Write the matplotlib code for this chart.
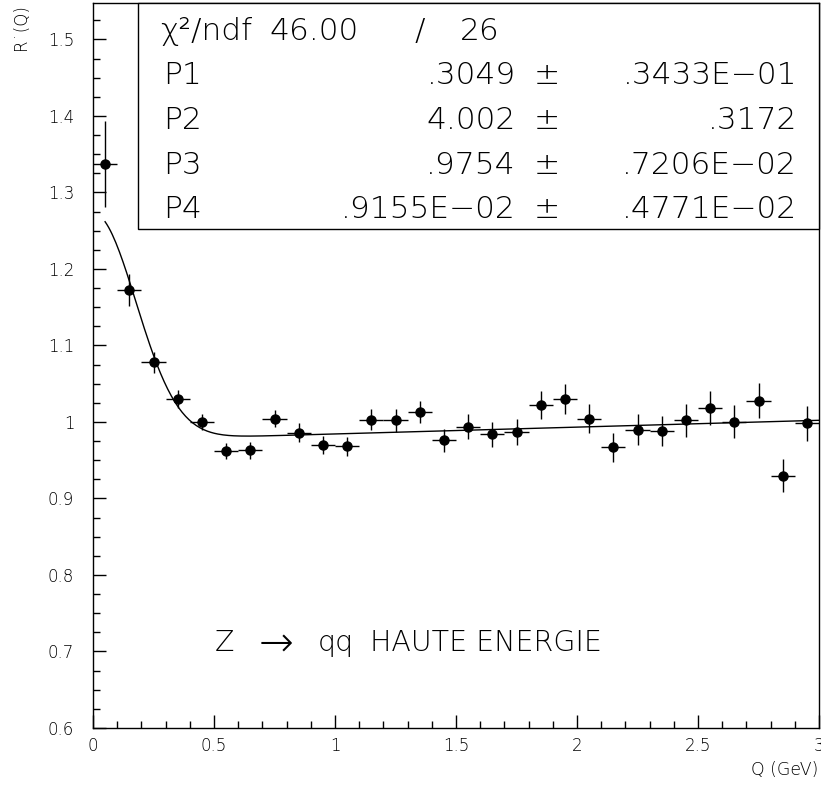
import numpy as np
import matplotlib
matplotlib.use("Agg")
import matplotlib.pyplot as plt
from matplotlib.ticker import MultipleLocator, FuncFormatter
from matplotlib.patches import Rectangle

# ---------------- data ----------------
q = [0.05, 0.15, 0.25, 0.35, 0.45, 0.55, 0.65, 0.75, 0.85, 0.95,
     1.05, 1.15, 1.25, 1.35, 1.45, 1.55, 1.65, 1.75, 1.85, 1.95,
     2.05, 2.15, 2.25, 2.35, 2.45, 2.55, 2.65, 2.75, 2.85, 2.95]
r = [1.337, 1.1725, 1.078, 1.030, 1.000, 0.962, 0.963, 1.004, 0.986, 0.970,
     0.968, 1.003, 1.002, 1.013, 0.976, 0.994, 0.984, 0.987, 1.022, 1.030,
     1.004, 0.967, 0.990, 0.988, 1.002, 1.018, 1.000, 1.028, 0.930, 0.998]
r_err = [0.056, 0.021, 0.014, 0.012, 0.011, 0.0105, 0.011, 0.011, 0.012, 0.012,
         0.0127, 0.0137, 0.0146, 0.015, 0.0148, 0.016, 0.0163, 0.0168, 0.018, 0.019,
         0.019, 0.0187, 0.020, 0.020, 0.021, 0.022, 0.0216, 0.023, 0.021, 0.023]
q_err = [0.05] * 30

# fit parameters as printed in the statistics box
fit_names = ["P1", "P2", "P3", "P4"]
fit_values = [0.3049, 4.002, 0.9754, 0.9155e-02]
fit_value_labels = [".3049", "4.002", ".9754", ".9155E\u221202"]
fit_error_labels = [".3433E\u221201", ".3172", ".7206E\u221202", ".4771E\u221202"]
chi2_label = "46.00"
ndf_label = "26"
fit_range = [0.05, 3.0]

x_ticks = [0, 0.5, 1, 1.5, 2, 2.5, 3]
y_ticks = [0.6, 0.7, 0.8, 0.9, 1.0, 1.1, 1.2, 1.3, 1.4, 1.5]

# ---------------- figure ----------------
W, H = 821, 787
plt.rcParams["font.family"] = ["DejaVu Sans"]
plt.rcParams["font.weight"] = 200
fig = plt.figure(figsize=(W / 100, H / 100), dpi=100)

FONT = dict(family=["DejaVu Sans"], weight=200)

def fx(px):
    return px / W

def fy(py):
    return 1 - py / H

L, R_, T, B = 93, 819, 2.7, 728
ax = fig.add_axes([fx(L), fy(B), (R_ - L) / W, (B - T) / H])
ax.set_xlim(0, 3)
ax.set_ylim(0.6, 1.548)

ax.errorbar(q, r, yerr=r_err, xerr=q_err, fmt="o", color="black",
            ms=6.5, elinewidth=1.0, capsize=0, zorder=3)

P1, P2, P3, P4 = fit_values
qq = np.linspace(fit_range[0], fit_range[1], 400)
fit_curve = P3 * (1 + P1 * np.exp(-(P2 * qq) ** 2)) * (1 + P4 * qq)
ax.plot(qq, fit_curve, color="black", lw=1.0, zorder=2)

for s in ax.spines.values():
    s.set_linewidth(1.0)
    s.set_color("black")
ax.set_xticks(x_ticks)
ax.set_yticks(y_ticks)
ax.xaxis.set_minor_locator(MultipleLocator(0.1))
ax.yaxis.set_minor_locator(MultipleLocator(0.025))
fmt = FuncFormatter(lambda v, p: f"{v:g}")
ax.xaxis.set_major_formatter(fmt)
ax.yaxis.set_major_formatter(fmt)
ax.tick_params(which="both", direction="in", top=False, right=False,
               width=1.0, color="black", labelsize=12)
ax.tick_params(which="major", length=9.5)
ax.tick_params(which="minor", length=4.8)
ax.tick_params(axis="y", which="major", pad=13.5)
ax.tick_params(axis="x", which="major", pad=6.5)
for lab in ax.get_xticklabels() + ax.get_yticklabels():
    lab.set_family(FONT["family"])
    lab.set_weight(FONT["weight"])

fig.text(fx(818), fy(770), "Q (GeV)", ha="right", va="center", fontsize=12.5, **FONT)
fig.text(fx(21), fy(4), "R\u02d9(Q)", ha="center", va="top",
         rotation=90, fontsize=12, **FONT)

box = Rectangle((fx(138), fy(229)), fx(819) - fx(138), fy(2.7) - fy(229),
                transform=fig.transFigure, facecolor="white",
                edgecolor="black", lw=1.0, zorder=5)
fig.patches.append(box)

fs_box = 22.5
base = [40, 84.5, 129, 173.5, 218]
fig.text(fx(160), fy(base[0]), "\u03c7\u00b2/ndf", ha="left", va="baseline",
         fontsize=fs_box, zorder=6, **FONT)
fig.text(fx(314), fy(base[0]), chi2_label, ha="center", va="baseline",
         fontsize=fs_box, zorder=6, **FONT)
fig.text(fx(420), fy(base[0]), "/", ha="center", va="baseline",
         fontsize=fs_box, zorder=6, **FONT)
fig.text(fx(500), fy(base[0]), ndf_label, ha="right", va="baseline",
         fontsize=fs_box, zorder=6, **FONT)
for i in range(4):
    yb = fy(base[i + 1])
    fig.text(fx(163), yb, fit_names[i], ha="left", va="baseline",
             fontsize=fs_box, zorder=6, **FONT)
    fig.text(fx(516), yb, fit_value_labels[i], ha="right", va="baseline",
             fontsize=fs_box, zorder=6, **FONT)
    fig.text(fx(547), yb, "\u00b1", ha="center", va="baseline",
             fontsize=fs_box, zorder=6, **FONT)
    fig.text(fx(797), yb, fit_error_labels[i], ha="right", va="baseline",
             fontsize=fs_box, zorder=6, **FONT)

fs_lab = 20.5
yl = fy(643)
fig.text(fx(215), yl, "Z", ha="left", va="center", fontsize=fs_lab, **FONT)
fig.text(fx(276), yl, "\u2192", ha="center", va="center", fontsize=30, **FONT)
fig.text(fx(318), yl, "qq", ha="left", va="center", fontsize=fs_lab, **FONT)
fig.text(fx(370), yl, "HAUTE ENERGIE", ha="left", va="center",
         fontsize=fs_lab, **FONT)

fig.savefig("out.png", dpi=100)
